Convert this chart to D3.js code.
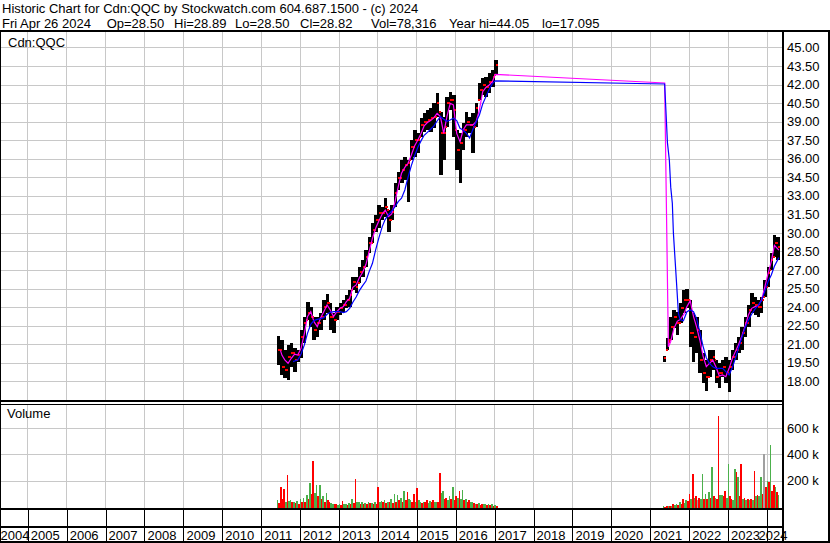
<!DOCTYPE html>
<html><head><meta charset="utf-8">
<script src="https://cdn.jsdelivr.net/npm/d3@7"></script>
<style>
html,body{margin:0;padding:0;background:#fff;}
svg{display:block;font-family:"Liberation Sans",Arial,sans-serif;}
</style></head><body>
<svg id="c" width="830" height="543"></svg>
<script>
// ---------------- DATA ----------------
const headerLine1 = "Historic Chart for Cdn:QQC by Stockwatch.com 604.687.1500 - (c) 2024";
const headerParts2 = ["Fri Apr 26 2024", "Op=28.50", "Hi=28.89", "Lo=28.50", "Cl=28.82", "Vol=78,316", "Year hi=44.05", "lo=17.095"];
const symbolLabel = "Cdn:QQC";
const volumeLabel = "Volume";
const priceTicks = [18.00,19.50,21.00,22.50,24.00,25.50,27.00,28.50,30.00,31.50,33.00,34.50,36.00,37.50,39.00,40.50,42.00,43.50,45.00];
const volumeTicks = [200000,400000,600000];
const yearTicks = [2004,2005,2006,2007,2008,2009,2010,2011,2012,2013,2014,2015,2016,2017,2018,2019,2020,2021,2022,2023,2024];

const priceMonths = [
"2011-06","2011-07","2011-08","2011-09","2011-10","2011-11","2011-12",
"2012-01","2012-02","2012-03","2012-04","2012-05","2012-06","2012-07","2012-08","2012-09","2012-10","2012-11","2012-12",
"2013-01","2013-02","2013-03","2013-04","2013-05","2013-06","2013-07","2013-08","2013-09","2013-10","2013-11","2013-12",
"2014-01","2014-02","2014-03","2014-04","2014-05","2014-06","2014-07","2014-08","2014-09","2014-10","2014-11","2014-12",
"2015-01","2015-02","2015-03","2015-04","2015-05","2015-06","2015-07","2015-08","2015-09","2015-10","2015-11","2015-12",
"2016-01","2016-02","2016-03","2016-04","2016-05","2016-06","2016-07","2016-08","2016-09","2016-10","2016-11","2016-12",
"2017-01",
"2021-05","2021-06","2021-07","2021-08","2021-09","2021-10","2021-11","2021-12",
"2022-01","2022-02","2022-03","2022-04","2022-05","2022-06","2022-07","2022-08","2022-09","2022-10","2022-11","2022-12",
"2023-01","2023-02","2023-03","2023-04","2023-05","2023-06","2023-07","2023-08","2023-09","2023-10","2023-11","2023-12",
"2024-01","2024-02","2024-03","2024-04"];

const priceHigh = [
21.67,21.34,20.53,20.94,21.07,20.67,20.53,
22.15,23.23,24.44,24.04,23.23,23.23,23.50,24.58,25.04,24.31,23.50,24.04,
24.31,24.58,24.98,25.39,26.46,26.46,27.27,27.81,28.62,29.70,30.78,31.45,
32.26,32.12,32.80,31.85,32.26,34.01,34.95,35.90,36.17,35.90,37.51,38.32,
38.05,39.27,39.67,39.94,40.08,40.48,41.29,39.81,39.40,41.02,41.42,41.15,
38.32,38.05,38.86,39.81,39.40,39.67,40.48,42.10,42.50,42.64,42.91,43.18,
43.98,
20.05,21.47,23.23,23.77,23.63,24.30,25.38,25.44,
24.57,23.50,23.23,22.15,20.26,19.72,20.53,20.53,19.72,19.45,19.72,19.99,
19.72,20.53,21.07,21.61,22.42,23.23,24.17,25.11,24.84,24.57,24.84,26.19,
27.27,28.35,29.83,29.70];

const priceLow = [
19.32,18.51,18.24,18.11,19.19,18.78,19.59,
19.86,21.07,22.96,22.42,21.34,21.61,22.15,22.96,23.50,22.15,21.88,22.96,
23.36,23.63,23.90,24.04,25.39,25.12,25.92,26.46,27.27,28.35,29.16,30.10,
30.37,31.05,31.32,30.10,31.05,32.12,33.47,34.01,34.28,32.53,35.90,36.17,
36.44,37.78,38.19,38.32,38.19,38.46,39.40,34.68,35.90,38.59,39.94,37.78,
35.09,34.01,36.71,37.78,38.05,36.44,38.59,40.75,41.15,41.02,41.29,41.83,
42.77,
19.59,20.53,21.34,22.28,21.74,22.69,23.50,23.90,
20.80,19.59,20.26,18.64,17.84,17.20,18.37,18.91,17.84,17.43,18.37,17.84,
17.10,18.91,19.72,20.26,20.53,21.61,22.42,23.50,23.36,23.23,23.50,24.84,
25.65,27.00,28.08,27.81];

const priceClose = [
20.53,19.19,18.92,19.99,20.26,19.73,20.13,
21.61,22.69,23.50,23.23,22.15,22.69,23.23,24.04,24.31,23.23,22.96,23.63,
23.90,24.17,24.58,24.98,26.06,25.65,26.87,27.27,28.08,29.16,30.24,31.05,
31.58,31.58,32.12,31.05,31.72,33.20,34.42,35.09,35.49,35.63,36.98,37.51,
37.51,38.73,39.00,39.13,39.27,39.40,40.48,38.05,38.05,40.48,40.75,39.94,
36.71,37.25,38.32,39.00,38.73,38.59,40.08,41.56,41.96,41.83,42.23,42.64,
43.58,
19.86,21.20,22.42,23.23,22.69,23.90,24.57,24.57,
21.88,21.61,22.15,19.72,18.64,18.37,19.72,19.99,18.37,18.64,19.18,18.64,
19.18,19.99,20.53,21.07,21.88,22.69,23.77,24.30,24.17,24.04,24.57,25.65,
26.73,27.81,29.16,28.82];

// short moving average (magenta)
const maShortDates = [
"2011-07-05","2011-07-20","2011-08-15","2011-09-15","2011-10-15","2011-11-15","2011-12-15",
"2012-01-15","2012-02-15","2012-03-15","2012-04-15","2012-05-15","2012-06-15","2012-07-15","2012-08-15","2012-09-15","2012-10-15","2012-11-15","2012-12-15",
"2013-01-15","2013-02-15","2013-03-15","2013-04-15","2013-05-15","2013-06-15","2013-07-15","2013-08-15","2013-09-15","2013-10-15","2013-11-15","2013-12-15",
"2014-01-15","2014-02-15","2014-03-15","2014-04-15","2014-05-15","2014-06-15","2014-07-15","2014-08-15","2014-09-15","2014-10-15","2014-11-15","2014-12-15",
"2015-01-15","2015-02-15","2015-03-15","2015-04-15","2015-05-15","2015-06-15","2015-07-15","2015-08-15","2015-09-15","2015-10-15","2015-11-15","2015-12-15",
"2016-01-15","2016-02-15","2016-03-15","2016-04-15","2016-05-15","2016-06-15","2016-07-15","2016-08-15","2016-09-15","2016-10-15","2016-11-15","2016-12-15",
"2017-01-10",
"2021-05-20","2021-06-24","2021-07-15","2021-08-15","2021-09-15","2021-10-15","2021-11-15","2021-12-15",
"2022-01-15","2022-02-15","2022-03-15","2022-04-15","2022-05-15","2022-06-15","2022-07-15","2022-08-15","2022-09-15","2022-10-15","2022-11-15","2022-12-15",
"2023-01-15","2023-02-15","2023-03-15","2023-04-15","2023-05-15","2023-06-15","2023-07-15","2023-08-15","2023-09-15","2023-10-15","2023-11-15","2023-12-15",
"2024-01-15","2024-02-15","2024-03-15","2024-04-26"];
const maShortValues = [
20.50,20.10,19.73,19.46,19.86,20.20,20.13,
20.67,21.88,23.23,23.63,22.82,22.42,23.09,23.63,24.17,23.77,23.23,23.63,
23.90,24.04,24.44,24.71,25.60,25.79,26.38,26.81,27.46,28.49,29.56,30.37,
30.99,31.53,31.85,31.32,31.53,32.53,33.74,34.82,35.30,35.63,36.30,37.03,
37.51,38.05,38.65,38.92,39.08,39.32,39.67,39.40,38.05,39.40,40.48,40.35,
38.05,37.38,38.32,38.73,38.73,38.73,39.00,39.94,41.42,41.77,41.96,42.23,
42.82,
42.12,20.80,21.20,22.28,22.85,23.01,23.41,24.04,
24.52,23.23,22.42,21.34,20.05,19.18,19.45,19.72,19.13,18.43,18.51,18.37,
19.05,19.86,20.40,20.99,21.66,22.47,23.36,23.90,24.04,24.09,24.57,25.60,
26.68,27.68,29.00,28.60];

// long moving average (blue)
const maLongDates = [
"2011-11-01","2011-11-15","2011-12-15",
"2012-01-15","2012-02-15","2012-03-15","2012-04-15","2012-05-15","2012-06-15","2012-07-15","2012-08-15","2012-09-15","2012-10-15","2012-11-15","2012-12-15",
"2013-01-15","2013-02-15","2013-03-15","2013-04-15","2013-05-15","2013-06-15","2013-07-15","2013-08-15","2013-09-15","2013-10-15","2013-11-15","2013-12-15",
"2014-01-15","2014-02-15","2014-03-15","2014-04-15","2014-05-15","2014-06-15","2014-07-15","2014-08-15","2014-09-15","2014-10-15","2014-11-15","2014-12-15",
"2015-01-15","2015-02-15","2015-03-15","2015-04-15","2015-05-15","2015-06-15","2015-07-15","2015-08-15","2015-09-15","2015-10-15","2015-11-15","2015-12-15",
"2016-01-15","2016-02-15","2016-03-15","2016-04-15","2016-05-15","2016-06-15","2016-07-15","2016-08-15","2016-09-15","2016-10-15","2016-11-15","2016-12-15",
"2017-01-10",
"2021-05-20","2021-06-15","2021-07-03","2021-07-16","2021-07-31","2021-08-10","2021-08-26","2021-09-11","2021-09-26","2021-10-12","2021-11-12","2021-12-15",
"2022-01-15","2022-02-15","2022-03-15","2022-04-15","2022-05-15","2022-06-15","2022-07-15","2022-08-15","2022-09-15","2022-10-15","2022-11-15","2022-12-15",
"2023-01-15","2023-02-15","2023-03-15","2023-04-15","2023-05-15","2023-06-15","2023-07-15","2023-08-15","2023-09-15","2023-10-15","2023-11-15","2023-12-15",
"2024-01-15","2024-02-15","2024-03-15","2024-04-26"];
const maLongValues = [
19.59,19.64,19.73,
20.21,20.94,21.88,22.61,22.91,23.01,23.07,23.15,23.42,23.58,23.63,23.63,
23.63,23.55,23.63,23.90,24.39,24.82,25.33,25.74,26.11,26.87,27.54,28.62,
29.62,30.51,31.10,31.48,31.77,32.12,32.53,32.80,33.47,34.50,35.44,36.22,
36.92,37.46,37.89,38.13,38.38,38.65,39.05,39.40,39.19,39.03,39.13,39.27,
39.08,38.46,38.32,38.05,37.68,38.38,38.97,39.54,40.43,41.02,41.61,42.07,
42.29,
42.04,37.30,35.90,33.70,32.40,30.00,27.80,25.60,23.50,23.00,22.90,23.63,
23.77,23.63,23.09,22.01,20.85,19.91,19.45,19.18,19.05,19.05,19.05,18.78,
18.51,19.13,19.86,20.72,21.55,22.36,22.93,23.44,23.84,24.14,24.52,25.25,
26.05,26.60,27.30,28.00];

// volume (thousands), two readings per month (first half / second half) with bar colours (g = up, r = down, k = unchanged)
const volFirst = [
53,150,134,243,50,40,45,
60,70,90,180,350,167,170,80,104,40,25,20,
20,46,20,30,58,213,35,40,30,35,30,40,
152,45,50,40,60,100,90,70,124,115,50,100,
142,40,40,50,45,55,40,261,124,70,80,150,
80,122,129,60,50,35,25,30,25,20,25,20,
15,
5,8,10,20,25,40,60,50,
96,251,80,70,251,96,117,302,65,695,90,124,
327,60,289,225,327,65,60,60,276,90,230,403,
200,471,167,115];
const volSecond = [
30,60,40,45,35,30,25,
35,40,60,100,110,80,60,40,50,30,20,15,
15,20,15,20,30,40,25,20,25,30,25,20,
40,40,30,35,30,40,50,40,50,60,40,40,
50,30,35,30,40,40,35,110,60,50,60,50,
70,60,50,40,40,30,20,15,20,15,15,10,
8,
3,6,8,12,15,20,30,45,
60,70,55,60,60,60,70,80,60,90,80,70,
80,55,264,80,60,50,55,50,80,80,100,150,
190,120,150,90];
const volFirstColors = [
"g","r","r","r","g","g","g",
"g","g","g","g","r","g","g","g","g","r","g","r",
"g","r","g","g","g","r","g","g","g","g","g","g",
"r","g","g","g","g","g","g","g","g","r","g","r",
"r","g","g","r","g","r","g","r","g","r","g","g",
"r","r","g","g","r","g","g","g","r","g","g","g",
"g",
"g","r","r","r","g","g","r","g",
"r","r","r","r","g","g","g","g","g","r","g","r",
"g","r","g","g","r","r","r","r","r","r","g","k",
"g","g","r","r"];
const volSecondColors = [
"r","r","g","g","r","r","r",
"r","r","r","r","g","r","r","r","r","g","r","g",
"r","g","r","r","r","g","r","r","r","r","r","r",
"g","r","r","r","r","r","r","r","r","g","r","g",
"g","r","r","g","r","g","r","g","r","g","r","r",
"g","g","r","r","g","r","r","r","g","r","r","r",
"r",
"r","g","g","g","r","r","g","r",
"g","g","k","g","r","r","r","r","r","g","r","g",
"r","g","r","r","g","g","g","g","g","g","r","r",
"r","r","g","g"];

// ---------------- CHART ----------------
const svg = d3.select("#c");
const pMonth = d3.timeParse("%Y-%m");
const pDay = d3.timeParse("%Y-%m-%d");
const FONT = 13;
const FAM = "Liberation Sans, Arial, sans-serif";

const x = d3.scaleTime().domain([new Date(2005,0,1), new Date(2024,0,1)]).range([27.3, 766.5]);
const y = d3.scaleLinear().domain([18,45]).range([381.3, 47.4]);
const yv = d3.scaleLinear().domain([0,600000]).range([507, 428.1]);

const plotR = 782, priceTop = 32, priceBot = 401, volTop = 405, volBot = 508.5;
const gridColor = "#c8c8c8";
const colorMap = {g:"#4cb04c", r:"#ff0000", k:"#a0a0a0"};

const defs = svg.append("defs");
defs.append("clipPath").attr("id","cp").append("rect").attr("x",0).attr("y",priceTop).attr("width",plotR).attr("height",priceBot-priceTop);
defs.append("clipPath").attr("id","cv").append("rect").attr("x",0).attr("y",volTop).attr("width",plotR).attr("height",volBot-volTop);

// header
svg.append("text").attr("x",2).attr("y",13).attr("font-size",FONT).text(headerLine1);
const header2X = [2,106.7,174,235,300,371,449,542];
headerParts2.forEach((t,i)=>svg.append("text").attr("x",header2X[i]).attr("y",27.5).attr("font-size",FONT).text(t));

// grids
const yearDates = yearTicks.map(yr => new Date(yr,0,1));
const gp = svg.append("g").attr("shape-rendering","crispEdges");
gp.selectAll("line.hp").data(priceTicks).join("line").attr("class","hp")
  .attr("x1",0).attr("x2",plotR).attr("y1",d=>Math.round(y(d))+0.5).attr("y2",d=>Math.round(y(d))+0.5)
  .attr("stroke",gridColor);
gp.selectAll("line.vp").data(yearDates.slice(1)).join("line").attr("class","vp")
  .attr("x1",d=>Math.round(x(d))+0.5).attr("x2",d=>Math.round(x(d))+0.5).attr("y1",priceTop).attr("y2",priceBot)
  .attr("stroke",gridColor);
const gv = svg.append("g").attr("shape-rendering","crispEdges");
gv.selectAll("line.hv").data(volumeTicks).join("line").attr("class","hv")
  .attr("x1",0).attr("x2",plotR).attr("y1",d=>Math.round(yv(d))+0.5).attr("y2",d=>Math.round(yv(d))+0.5)
  .attr("stroke",gridColor);
gv.selectAll("line.vv").data(yearDates.slice(1)).join("line").attr("class","vv")
  .attr("x1",d=>Math.round(x(d))+0.5).attr("x2",d=>Math.round(x(d))+0.5).attr("y1",volTop).attr("y2",volBot)
  .attr("stroke",gridColor);

// panel labels
svg.append("text").attr("x",8).attr("y",47).attr("font-size",FONT).text(symbolLabel);
svg.append("text").attr("x",7).attr("y",418).attr("font-size",FONT).text(volumeLabel);

// price bars
const bars = priceMonths.map((m,i)=>{
  const s = pMonth(m), e = d3.timeMonth.offset(s,1);
  const prev = i>0 && +d3.timeMonth.offset(pMonth(priceMonths[i-1]),1) === +s ? priceClose[i-1] : null;
  return {s,e,h:priceHigh[i],l:priceLow[i],c:priceClose[i],o:prev};
});
const pg = svg.append("g").attr("clip-path","url(#cp)").attr("shape-rendering","crispEdges");
pg.selectAll("rect.b").data(bars).join("rect").attr("class","b")
  .attr("x",d=>x(d.s)).attr("width",d=>x(d.e)-x(d.s)+0.3)
  .attr("y",d=>y(d.h)).attr("height",d=>y(d.l)-y(d.h)).attr("fill","#000");
pg.selectAll("rect.c").data(bars).join("rect").attr("class","c")
  .attr("x",d=>(x(d.s)+x(d.e))/2).attr("width",d=>(x(d.e)-x(d.s))/2+0.5)
  .attr("y",d=>y(d.c)-1).attr("height",2).attr("fill","#ff0000");
pg.selectAll("rect.o").data(bars.filter(d=>d.o!==null)).join("rect").attr("class","o")
  .attr("x",d=>x(d.s)).attr("width",d=>(x(d.e)-x(d.s))/2)
  .attr("y",d=>y(Math.min(Math.max(d.o,d.l),d.h))-1).attr("height",2).attr("fill","#ff0000");

// moving averages
const line = d3.line().x(d=>x(d[0])).y(d=>y(d[1]));
const maS = maShortDates.map((d,i)=>[pDay(d),maShortValues[i]]);
const maL = maLongDates.map((d,i)=>[pDay(d),maLongValues[i]]);
pg.append("path").datum(maS).attr("d",line).attr("fill","none").attr("stroke","#ff00ff").attr("stroke-width",1.2).attr("shape-rendering","auto");
pg.append("path").datum(maL).attr("d",line).attr("fill","none").attr("stroke","#0000ff").attr("stroke-width",1.2).attr("shape-rendering","auto");

// volume bars
const vols = [];
priceMonths.forEach((m,i)=>{
  const s = pMonth(m), e = d3.timeMonth.offset(s,1), mid = new Date((+s + +e)/2);
  vols.push({a:s,b:mid,v:volFirst[i]*1000,col:volFirstColors[i]});
  vols.push({a:mid,b:e,v:volSecond[i]*1000,col:volSecondColors[i]});
});
const vg = svg.append("g").attr("clip-path","url(#cv)").attr("shape-rendering","crispEdges");
vg.selectAll("rect").data(vols).join("rect")
  .attr("x",d=>x(d.a)).attr("width",d=>Math.max(1,x(d.b)-x(d.a)))
  .attr("y",d=>yv(d.v)).attr("height",d=>yv(0)-yv(d.v)+2).attr("fill",d=>colorMap[d.col]);

// right axes
function styleAxis(g){
  g.select(".domain").remove();
  g.selectAll("text").attr("font-size",FONT).attr("font-family",FAM).attr("fill","#000");
}
const ay = d3.axisRight(y).tickValues(priceTicks).tickFormat(d3.format(".2f")).tickSize(0).tickPadding(0);
svg.append("g").attr("transform","translate(787,0)").call(ay).call(styleAxis);
const av = d3.axisRight(yv).tickValues(volumeTicks).tickFormat(d=>(d/1000)+" k").tickSize(0).tickPadding(0);
svg.append("g").attr("transform","translate(787,0)").call(av).call(styleAxis);

// year axis
const ax = d3.axisBottom(x).tickValues(yearDates).tickFormat(d3.timeFormat("%Y")).tickSize(32).tickPadding(0);
const gax = svg.append("g").attr("transform","translate(0,510)").attr("shape-rendering","crispEdges").call(ax);
gax.select(".domain").remove();
gax.selectAll(".tick line").attr("stroke","#000").attr("transform","translate(0.5,0)");
gax.selectAll(".tick text").attr("font-size",FONT).attr("font-family",FAM).attr("fill","#000")
  .attr("text-anchor","start").attr("y",29.5).attr("dy",0)
  .each(function(d){
    const w = this.getComputedTextLength();
    const abs = x(d);
    let xx = 3;
    if (abs + xx < 0) xx = 0 - abs;
    if (abs + xx + w > 787) xx = 787 - w - abs;
    d3.select(this).attr("x",xx);
  });

// frame lines
const fr = svg.append("g").attr("fill","#000").attr("shape-rendering","crispEdges");
fr.append("rect").attr("x",0).attr("y",30).attr("width",830).attr("height",2);
fr.append("rect").attr("x",0).attr("y",400).attr("width",plotR+2).attr("height",2);
fr.append("rect").attr("x",0).attr("y",404).attr("width",plotR+2).attr("height",1);
fr.append("rect").attr("x",0).attr("y",508).attr("width",plotR+2).attr("height",2);
fr.append("rect").attr("x",0).attr("y",526).attr("width",plotR+2).attr("height",2);
fr.append("rect").attr("x",0).attr("y",541).attr("width",830).attr("height",2);
fr.append("rect").attr("x",0).attr("y",30).attr("width",1).attr("height",513);
fr.append("rect").attr("x",plotR).attr("y",30).attr("width",2).attr("height",513);
fr.append("rect").attr("x",828).attr("y",30).attr("width",2).attr("height",513);
</script>
</body></html>
